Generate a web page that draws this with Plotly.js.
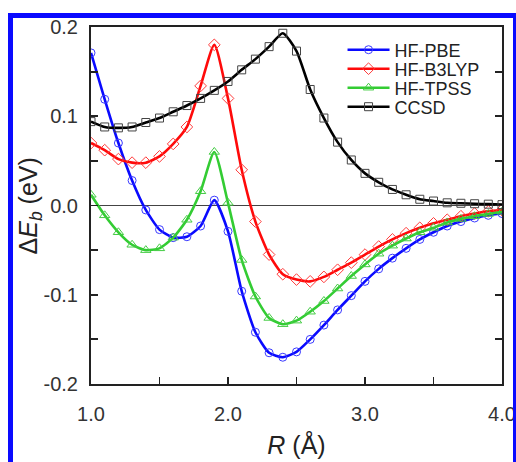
<!DOCTYPE html>
<html>
<head>
<meta charset="utf-8">
<script src="https://cdn.plot.ly/plotly-3.0.1.min.js"></script>
<style>
html, body { margin:0; padding:0; background:#fff; overflow:hidden; width:516px; height:462px; }
#frame { position:absolute; left:8px; top:13px; width:510px; height:480px; box-sizing:border-box; border:5px solid #0a0aff; pointer-events:none; z-index:5; }
#chart { position:absolute; left:0; top:0; width:516px; height:462px; }
</style>
</head>
<body>
<div id="chart"></div>
<div id="frame"></div>
<script>
// Bond distance R (Å)
var R = [1.0,1.1,1.2,1.3,1.4,1.5,1.6,1.7,1.8,1.9,2.0,2.1,2.2,2.3,2.4,2.5,2.6,2.7,2.8,2.9,3.0,3.1,3.2,3.3,3.4,3.5,3.6,3.7,3.8,3.9,4.0];
// ΔE_b (eV) for each method
var hfPBE = [0.171,0.119,0.070,0.028,-0.005,-0.027,-0.036,-0.035,-0.023,0.006,-0.029,-0.096,-0.142,-0.165,-0.170,-0.164,-0.150,-0.134,-0.117,-0.101,-0.085,-0.071,-0.059,-0.048,-0.038,-0.030,-0.023,-0.018,-0.014,-0.011,-0.009];
var hfB3LYP = [0.070,0.062,0.052,0.048,0.048,0.055,0.069,0.088,0.134,0.180,0.120,0.040,-0.018,-0.055,-0.077,-0.083,-0.085,-0.080,-0.072,-0.064,-0.055,-0.046,-0.038,-0.031,-0.025,-0.020,-0.016,-0.012,-0.009,-0.0065,-0.005];
var hfTPSS = [0.012,-0.011,-0.030,-0.044,-0.050,-0.048,-0.036,-0.016,0.016,0.060,0.003,-0.061,-0.102,-0.126,-0.133,-0.129,-0.119,-0.107,-0.093,-0.079,-0.066,-0.054,-0.045,-0.037,-0.030,-0.025,-0.019,-0.015,-0.012,-0.0095,-0.007];
var ccsd = [0.094,0.088,0.087,0.088,0.093,0.098,0.105,0.112,0.120,0.129,0.139,0.152,0.164,0.178,0.193,0.173,0.130,0.098,0.071,0.051,0.036,0.026,0.018,0.012,0.007,0.005,0.003,0.0025,0.002,0.0015,0.001];

var names = ['HF-PBE','HF-B3LYP','HF-TPSS','CCSD'];
var xTickVals = [1.0,2.0,3.0,4.0];
var xTickText = ['1.0','2.0','3.0','4.0'];
var xMinorVals = [1.5,2.5,3.5];
var yTickVals = [-0.2,-0.1,0.0,0.1,0.2];
var yTickText = ['-0.2','-0.1','0.0','0.1','0.2'];
var yMinorVals = [-0.15,-0.05,0.05,0.15];
var yTitle = 'Δ<i>E</i><sub><i>b</i></sub> (eV)';
var xTitle = '<i>R</i> (Å)';

var FONT = 'Liberation Sans, Arial, Helvetica, sans-serif';

function tr(y, name, lineColor, markerColor, symbol, size, leg) {
  return {
    x: R, y: y, name: name, type: 'scatter', mode: 'lines+markers',
    line: {color: lineColor, width: 2.6, shape: 'spline', smoothing: 0.6},
    marker: {symbol: symbol, size: size, color: markerColor, line: {color: markerColor, width: 1}},
    legend: leg
  };
}

var data = [
  tr(hfPBE, names[0], '#0a0aff', '#3a3aff', 'circle-open', 8, 'legend'),
  tr(hfB3LYP, names[1], '#ff0a0a', '#ff3a3a', 'diamond-open', 9, 'legend2'),
  tr(hfTPSS, names[2], '#33cc33', '#44cc44', 'triangle-up-open', 9, 'legend3'),
  tr(ccsd, names[3], '#000000', '#444444', 'square-open', 8, 'legend4')
];

var plotTop = 27, plotH = 357, plotL = 91, plotW = 411;
function legY(px) { return 1 - (px - plotTop) / plotH; }
function legObj(px) {
  return {x: 0.612, xanchor: 'left', y: legY(px), yanchor: 'middle', bgcolor: 'rgba(0,0,0,0)',
          borderwidth: 0, itemwidth: 42, font: {family: FONT, size: 18, color: '#222'}, tracegroupgap: 0};
}

var tickStyle = {ticks: 'inside', ticklen: 7, tickwidth: 1.8, tickcolor: '#222'};

var layout = {
  width: 516, height: 462,
  margin: {l: 91, r: 14, t: 27, b: 78},
  paper_bgcolor: 'rgba(0,0,0,0)', plot_bgcolor: '#fff',
  showlegend: true,
  legend: legObj(50), legend2: legObj(69), legend3: legObj(88), legend4: legObj(107),
  xaxis: Object.assign({
    range: [1.0, 4.0], tickmode: 'array', tickvals: xTickVals, ticktext: xTickText,
    minor: Object.assign({tickmode: 'array', tickvals: xMinorVals, showgrid: false}, tickStyle),
    showline: true, linecolor: '#222', linewidth: 2, mirror: true,
    showgrid: false, zeroline: false,
    tickfont: {family: FONT, size: 20, color: '#333'}, ticklabelstandoff: 11,
    title: {text: xTitle, font: {family: FONT, size: 25, color: '#222'}, standoff: 12}
  }, tickStyle),
  yaxis: Object.assign({
    range: [-0.2, 0.2], tickmode: 'array', tickvals: yTickVals, ticktext: yTickText,
    minor: Object.assign({tickmode: 'array', tickvals: yMinorVals, showgrid: false}, tickStyle),
    showline: true, linecolor: '#222', linewidth: 2, mirror: 'ticks',
    showgrid: false, zeroline: true, zerolinecolor: '#444', zerolinewidth: 1.2,
    tickfont: {family: FONT, size: 20, color: '#333'}, ticklabelstandoff: 7
  }, tickStyle),
  annotations: [{
    text: yTitle, xref: 'paper', yref: 'paper',
    x: (29 - plotL) / plotW, y: 0.5, xanchor: 'center', yanchor: 'middle',
    textangle: -90, showarrow: false,
    font: {family: FONT, size: 25, color: '#222'}
  }]
};

Plotly.newPlot('chart', data, layout, {staticPlot: true, displayModeBar: false});
</script>
</body>
</html>
